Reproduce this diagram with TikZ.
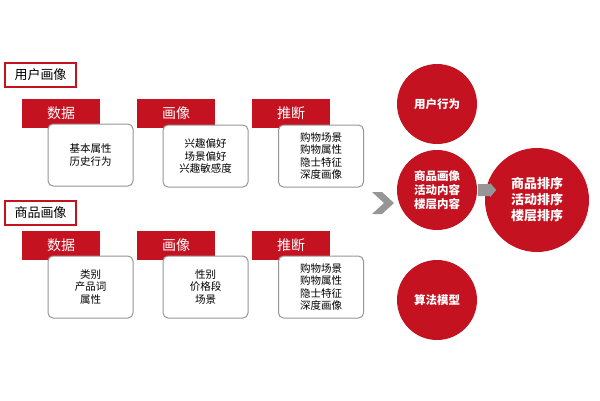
\documentclass[tikz,border=0pt]{standalone}
\usepackage{fontspec}
\setmainfont{Noto Sans CJK SC}
\usepackage{tikz}
\definecolor{hred}{RGB}{196,18,32}
\definecolor{hgray}{RGB}{150,150,150}

\begin{document}
\begin{tikzpicture}[x=1pt, y=-1pt, >=stealth,
    tab/.style={fill=hred, text=white, minimum width=78pt, minimum height=29pt, inner sep=0pt, font=\fontsize{14}{16}\selectfont},
    card/.style={draw=hgray, line width=1pt, fill=white, rounded corners=5pt, minimum width=85pt, minimum height=62pt, align=center, inner sep=0pt, font=\fontsize{10.5}{12.5}\selectfont},
    title/.style={draw=hred, line width=1.2pt, minimum width=71pt, minimum height=24pt, inner sep=0pt, font=\fontsize{13}{15}\selectfont},
    ball/.style={circle, fill=hred, text=white, align=center, inner sep=0pt, font=\bfseries\fontsize{11.5}{14}\selectfont}]
    \useasboundingbox (0,0) rectangle (600,400);

    % Upper group
    \node[title] (t1) at (40.5,75) {用户画像};
    \node[tab] (u1) at (61,113) {数据};
    \node[tab] (u2) at (176,113) {画像};
    \node[tab] (u3) at (291,113) {推断};
    \node[card] (c1) at (90.5,155) {基本属性\\历史行为};
    \node[card] (c2) at (205.5,156) {兴趣偏好\\场景偏好\\兴趣敏感度};
    \node[card] (c3) at (321,156) {购物场景\\购物属性\\隐士特征\\深度画像};

    % Lower group
    \node[title] (t2) at (40.5,213) {商品画像};
    \node[tab] (g1) at (61,245) {数据};
    \node[tab] (g2) at (176,245) {画像};
    \node[tab] (g3) at (291,245) {推断};
    \node[card] (d1) at (90.5,287) {类别\\产品词\\属性};
    \node[card] (d2) at (205.5,287) {性别\\价格段\\场景};
    \node[card] (d3) at (321,287) {购物场景\\购物属性\\隐士特征\\深度画像};

    % Circles
    \node[ball, minimum size=80pt] (b1) at (437,104) {用户行为};
    \node[ball, minimum size=80pt] (b2) at (437,190) {商品画像\\活动内容\\楼层内容};
    \node[ball, minimum size=80pt] (b3) at (437,300) {算法模型};
    \node[ball, minimum size=104pt, font=\bfseries\fontsize{13}{16}\selectfont] (b4) at (537,200) {商品排序\\活动排序\\楼层排序};

    % Arrows
    \coordinate (ch) at (372,192);
    \fill[hgray] (ch) -- ++(10,0) -- ++(12,11) -- ++(-12,11) -- ++(-10,0) -- ++(12,-11) -- cycle;
    \fill[hgray] (b2.east) ++(1,-6) -- ++(12,0) -- ++(0,-1) -- ++(6,7) -- ++(-6,7) -- ++(0,-1) -- ++(-12,0) -- cycle;
\end{tikzpicture}
\end{document}
